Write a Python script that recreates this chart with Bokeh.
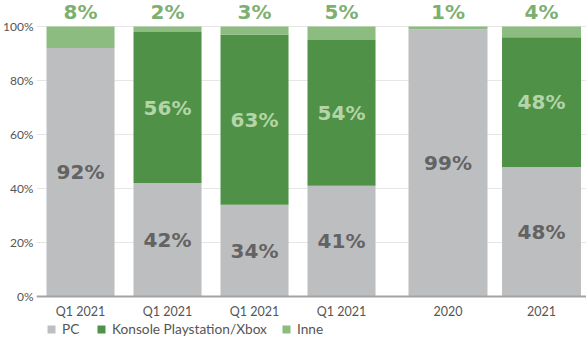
from bokeh.plotting import figure
from bokeh.models import ColumnDataSource, Range1d, FixedTicker, Legend, LegendItem
from bokeh.core.properties import value
from bokeh.embed import file_html
from bokeh.resources import INLINE

# ---- data ----
categories = ["Q1 2021", "Q1 2021", "Q1 2021", "Q1 2021", "2020", "2021"]
pc = [92, 42, 34, 41, 99, 48]
konsole = [0, 56, 63, 54, 0, 48]
inne = [8, 2, 3, 5, 1, 4]
series_labels = ["PC", "Konsole Playstation/Xbox", "Inne"]
y_ticks = [0, 20, 40, 60, 80, 100]

# ---- layout helpers (positions computed, not data) ----
GROUP_SPLIT = 4          # bars after this index form the second group
GROUP_GAP = 0.224        # extra gap before second group (in bar units)
GROUP2_STEP = 1.075
x = []
w = []
for i in range(len(categories)):
    if i < GROUP_SPLIT:
        x.append(float(i))
        w.append(0.782)
    else:
        x.append(GROUP_SPLIT + GROUP_GAP + (i - GROUP_SPLIT) * GROUP2_STEP)
        w.append(0.908)

GREY = "#BDBEC0"
DARK = "#4F9146"
LIGHT = "#8DBC81"
PX_PER_PCT = 2.7

src = ColumnDataSource(dict(x=x, w=w, pc=pc, konsole=konsole, inne=inne))

p = figure(width=586, height=338, output_backend="svg",
           toolbar_location=None, x_range=Range1d(-0.506, 5.816),
           y_range=Range1d(-42 / PX_PER_PCT, 100 + 26 / PX_PER_PCT),
           min_border_left=36, min_border_right=0, min_border_top=0,
           min_border_bottom=0)
p.outline_line_color = None
p.background_fill_color = "white"

rs = p.vbar_stack(["pc", "konsole", "inne"], x="x", width="w", source=src,
                  color=[GREY, DARK, LIGHT], line_color=None)

# labels
FONT = value("DejaVu Sans")
lab_pc = ColumnDataSource(dict(x=x, y=[v / 2 for v in pc], t=[f"{v}%" for v in pc]))
p.text(x="x", y="y", text="t", source=lab_pc, text_font=FONT, text_font_style="bold",
       text_font_size="20px", text_color="#636363", text_align="center",
       text_baseline="middle")
kx, ky, kt = [], [], []
for xi, a, b in zip(x, pc, konsole):
    if b > 0:
        kx.append(xi); ky.append(a + b / 2); kt.append(f"{b}%")
lab_k = ColumnDataSource(dict(x=kx, y=ky, t=kt))
p.text(x="x", y="y", text="t", source=lab_k, text_font=FONT, text_font_style="bold",
       text_font_size="20px", text_color="#B3D5A7", text_align="center",
       text_baseline="middle")
lab_top = ColumnDataSource(dict(x=x, y=[105.2] * len(x), t=[f"{v}%" for v in inne]))
p.text(x="x", y="y", text="t", source=lab_top, text_font=FONT, text_font_style="bold",
       text_font_size="20px", text_color="#7DB070", text_align="center",
       text_baseline="middle")

# axes
p.xaxis.fixed_location = 0
p.xaxis.ticker = FixedTicker(ticks=x)
p.xaxis.major_label_overrides = {xi: c for xi, c in zip(x, categories)}
p.xaxis.axis_line_color = "#A3A3A3"
p.xaxis.axis_line_width = 2
p.xaxis.major_tick_line_color = None
p.xaxis.minor_tick_line_color = None
p.xaxis.major_tick_out = 0
p.xaxis.major_tick_in = 0
p.xaxis.minor_tick_out = 0
p.xaxis.major_label_text_font = "Lato"
p.xaxis.major_label_text_font_size = "12.5px"
p.xaxis.major_label_text_color = "#555555"
p.xaxis.major_label_standoff = 7

p.yaxis.ticker = FixedTicker(ticks=y_ticks)
p.yaxis.major_label_overrides = {t: f"{t}%" for t in y_ticks}
p.yaxis.axis_line_color = None
p.yaxis.major_tick_line_color = None
p.yaxis.minor_tick_line_color = None
p.yaxis.major_tick_out = 0
p.yaxis.major_tick_in = 0
p.yaxis.minor_tick_out = 0
p.yaxis.major_label_text_font = "Lato"
p.yaxis.major_label_text_font_size = "12px"
p.yaxis.major_label_text_color = "#555555"
p.yaxis.major_label_standoff = 3

p.xgrid.grid_line_color = None
p.ygrid.grid_line_color = "#E6E6E6"
p.ygrid.ticker = FixedTicker(ticks=y_ticks)

legend = Legend(items=[LegendItem(label=l, renderers=[r]) for l, r in zip(series_labels, rs)],
                orientation="horizontal", location=(10, 1),
                glyph_width=10, glyph_height=10, label_standoff=6, spacing=14,
                padding=0, margin=0, border_line_color=None,
                background_fill_alpha=0,
                label_text_font="Lato", label_text_font_size="13.7px",
                label_text_color="#555555", label_height=14)
p.add_layout(legend, "center")

open("out.html", "w").write(file_html(p, INLINE))
